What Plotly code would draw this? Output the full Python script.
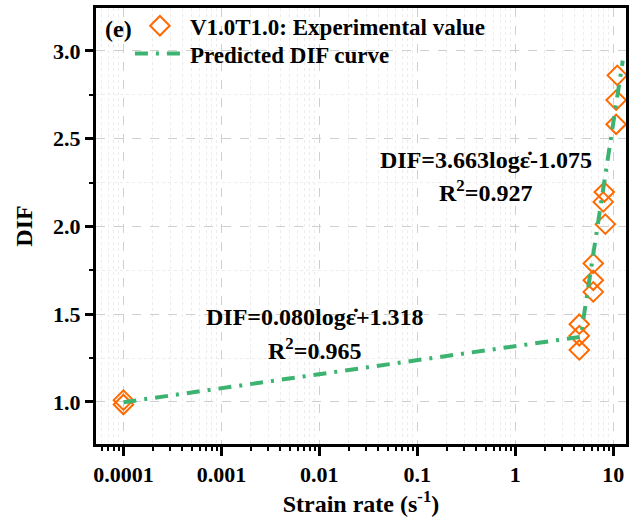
import plotly.graph_objects as go

# Experimental data (strain rate s^-1, DIF)
exp_rate = [0.0001, 0.0001, 4.5, 4.5, 4.5, 6.25, 6.25, 6.25, 8.1, 7.9, 8.3, 11.0, 10.7, 10.7]
exp_dif = [1.01, 0.985, 1.443, 1.377, 1.296, 1.789, 1.693, 1.627, 2.196, 2.14, 2.013, 2.861, 2.72, 2.582]

# Predicted DIF curve (two log-linear branches)
fit_rate = [0.0001, 4.65, 12.5]
fit_dif = [0.998, 1.371, 2.945]

x_tick_vals = [0.0001, 0.001, 0.01, 0.1, 1, 10]
x_tick_text = ["0.0001", "0.001", "0.01", "0.1", "1", "10"]

FONT = "Liberation Serif"
ORANGE = "#FF6A00"
GREEN = "#3CB371"

fig = go.Figure()
fig.add_trace(go.Scatter(
    x=exp_rate, y=exp_dif, mode="markers",
    name="<b>V1.0T1.0: Experimental value</b>",
    marker=dict(symbol="diamond-open", size=15, color=ORANGE, line=dict(width=2, color=ORANGE)),
    legend="legend",
))
fig.add_trace(go.Scatter(
    x=fit_rate, y=fit_dif, mode="lines",
    name="<b>Predicted DIF curve</b>",
    line=dict(color=GREEN, width=4, dash="13px,8px,3px,8px"),
    legend="legend2",
))

minor_x = [k * 10.0 ** e for e in range(-5, 2) for k in range(2, 10)]

fig.update_xaxes(
    type="log", range=[-4.28, 1.13],
    tickvals=x_tick_vals, ticktext=["<b>%s</b>" % t for t in x_tick_text],
    ticks="outside", ticklen=9, tickwidth=3, tickcolor="black",
    showline=True, linewidth=3, linecolor="black", mirror=True,
    showgrid=True, gridcolor="#cfcfcf", griddash="dash", gridwidth=1,
    zeroline=False,
    minor=dict(tickvals=minor_x, ticks="outside", ticklen=4, tickwidth=2, tickcolor="black",
               showgrid=True, gridcolor="#ececec", griddash="dot", gridwidth=1),
    tickfont=dict(family=FONT, size=22, color="black"),
    title=dict(text="<b>Strain rate (s<sup>-1</sup>)</b>", font=dict(family=FONT, size=24, color="black"), standoff=6),
)
fig.update_yaxes(
    range=[0.76, 3.245], tick0=1.0, dtick=0.5, tickformat=".1f",
    ticks="outside", ticklen=8, tickwidth=3, tickcolor="black",
    showline=True, linewidth=3, linecolor="black", mirror=True,
    showgrid=True, gridcolor="#cfcfcf", griddash="dash", gridwidth=1,
    zeroline=False,
    minor=dict(dtick=0.25, ticks="outside", ticklen=4, tickwidth=2, tickcolor="black",
               showgrid=True, gridcolor="#ececec", griddash="dot", gridwidth=1),
    tickfont=dict(family=FONT, size=22, color="black"),
    title=dict(text="<b>DIF</b>", font=dict(family=FONT, size=24, color="black"), standoff=14),
    tickprefix="<b>", ticksuffix="</b>",
)

ann_font = dict(family=FONT, size=24, color="black")


def ann(text, x, y):
    return dict(text=text, xref="paper", yref="paper", x=x, y=y, xanchor="center", yanchor="middle",
                showarrow=False, font=ann_font)


leg_common = dict(xanchor="left", yanchor="middle", bgcolor="rgba(0,0,0,0)",
                  font=dict(family=FONT, size=23, color="black"), itemwidth=50)

fig.update_layout(
    width=634, height=527,
    margin=dict(l=96, r=8, t=4, b=83),
    plot_bgcolor="white", paper_bgcolor="white",
    showlegend=True,
    legend=dict(x=0.064, y=1 - (22 - 4) / 440, **leg_common),
    legend2=dict(x=0.064, y=1 - (50 - 4) / 440, **leg_common),
    annotations=[
        ann("<b>(e)</b>", 0.042, 0.952),
        ann("<b>DIF=3.663logε̇-1.075</b>", 0.735, 0.652),
        ann("<b>R<sup>2</sup>=0.927</b>", 0.735, 0.58),
        ann("<b>DIF=0.080logε̇+1.318</b>", 0.413, 0.291),
        ann("<b>R<sup>2</sup>=0.965</b>", 0.413, 0.217),
    ],
)

fig.write_html("out.html")
